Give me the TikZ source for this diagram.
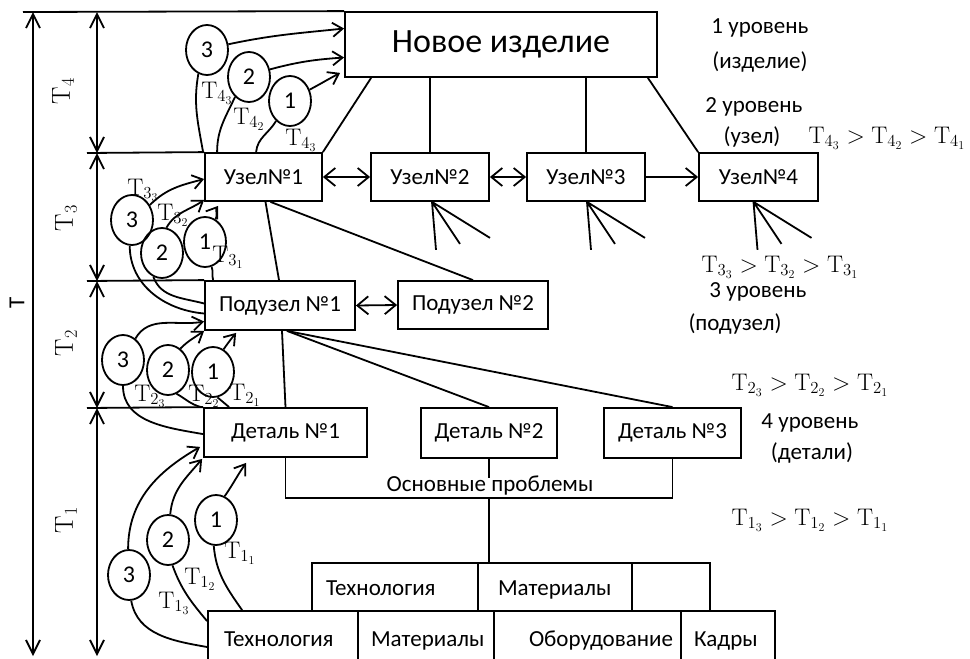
\RequirePackage{fix-cm}
\documentclass[tikz,border=0pt]{standalone}
\usepackage[no-math]{fontspec}
\setmainfont{Carlito}
\usetikzlibrary{arrows.meta,shapes.geometric}

\begin{document}
\begin{tikzpicture}[x=1pt,y=1pt,line width=1.8pt,
  box/.style={draw, rectangle, inner sep=0pt, font=\fontsize{23}{27}\selectfont},
  circ/.style={draw, ellipse, inner sep=0pt, minimum width=42pt, minimum height=50pt, font=\fontsize{24}{28}\selectfont},
  lbl/.style={inner sep=0pt, font=\fontsize{24}{28}\selectfont},
  dimlbl/.style={inner sep=0pt, rotate=90, font=\fontsize{26}{30}\selectfont},
  txt/.style={inner sep=0pt, font=\fontsize{23}{27}\selectfont},
  cell/.style={txt, anchor=base west},
  arr/.style={-{Straight Barb[length=10pt,width=14pt]}},
  harr/.style={-{Straight Barb[length=11pt,width=18pt]}},
  dbl/.style={{Straight Barb[length=11pt,width=18pt]}-{Straight Barb[length=11pt,width=18pt]}},
  dim/.style={{Straight Barb[length=14pt,width=14pt]}-{Straight Barb[length=14pt,width=14pt]}}]

\useasboundingbox (0,0) rectangle (970,-659);
\clip (0,0) rectangle (970,-659);

% ---- level boundaries and time spans
\coordinate (a0) at (23,-12);
\coordinate (a1) at (87,-153);
\coordinate (a2) at (87,-281);
\coordinate (a3) at (87,-408);
\coordinate (tT0) at (33,-12);  \coordinate (tT1) at (33,-656);
\coordinate (t40) at (97,-12);  \coordinate (t41) at (97,-153);
\coordinate (t31) at (97,-281); \coordinate (t21) at (97,-408);
\coordinate (t11) at (97,-656);

% ---- level 1 and 2
\node[box, minimum width=312pt, minimum height=65pt, font=\fontsize{34}{40}\selectfont] (top) at (501,-44.5) {Новое изделие};
\node[box, minimum width=117pt, minimum height=48pt] (u1) at (263.5,-177) {Узел№1};
\node[box, minimum width=118pt, minimum height=48pt] (u2) at (430,-177) {Узел№2};
\node[box, minimum width=118pt, minimum height=48pt] (u3) at (586,-177) {Узел№3};
\node[box, minimum width=119pt, minimum height=48pt] (u4) at (758.5,-177) {Узел№4};

% ---- level 3
\node[box, minimum width=150pt, minimum height=49pt] (p1) at (280,-305.5) {Подузел №1};
\node[box, minimum width=150pt, minimum height=48pt] (p2) at (473,-305) {Подузел №2};

% ---- level 4
\node[box, minimum width=163pt, minimum height=49pt] (d1) at (285.5,-432.5) {Деталь №1};
\node[box, minimum width=136pt, minimum height=50pt] (d2) at (489,-433) {Деталь №2};
\node[box, minimum width=137pt, minimum height=50pt] (d3) at (672.5,-433) {Деталь №3};

% ---- problem table
\node[box, minimum width=166pt, minimum height=48pt] (tt) at (395,-587) {};
\node[box, minimum width=154pt, minimum height=48pt] (tm) at (555,-587) {};
\node[box, minimum width=78pt, minimum height=48pt] (te) at (671,-587) {};
\node[cell] (ttl) at ([xshift=14pt,yshift=-8pt]tt.west) {Технология};
\node[cell] (tml) at ([xshift=20pt,yshift=-8pt]tm.west) {Материалы};
\node[box, minimum width=150pt, minimum height=54pt] (bt) at (283,-638) {};
\node[box, minimum width=136pt, minimum height=54pt] (bm) at (426,-638) {};
\node[box, minimum width=187pt, minimum height=54pt] (bo) at (587.5,-638) {};
\node[box, minimum width=94pt, minimum height=54pt] (bk) at (728,-638) {};
\node[cell] (btl) at ([xshift=16pt,yshift=-8pt]bt.west) {Технология};
\node[cell] (bml) at ([xshift=13pt,yshift=-8pt]bm.west) {Материалы};
\node[cell] (bol) at ([xshift=35pt,yshift=-8pt]bo.west) {Оборудование};
\node[cell] (bkl) at ([xshift=13pt,yshift=-8pt]bk.west) {Кадры};

% ---- level lines and time spans
\draw (a0) -- (top.north west);
\draw (a1) -- (u1.north west);
\draw (a2) -- (p1.north west);
\draw (a3) -- (d1.north west);
\draw[dim] (tT0) -- (tT1);
\draw[dim] (t40) -- (t41);
\draw[dim] (t41) -- (t31);
\draw[dim] (t31) -- (t21);
\draw[dim] (t21) -- (t11);
\node[rotate=90, inner sep=0pt, font=\fontsize{23}{27}\selectfont] (lT) at (17,-303) {T};
\node[dimlbl] (lT4) at (63,-91) {$\mathrm{T}_4$};
\node[dimlbl] (lT3) at (66,-218) {$\mathrm{T}_3$};
\node[dimlbl] (lT2) at (66,-343) {$\mathrm{T}_2$};
\node[dimlbl] (lT1) at (66,-520) {$\mathrm{T}_1$};

% ---- tree connectors
\draw ([xshift=27pt]top.south west) -- (u1.north east);
\draw (u2.north |- top.south) -- (u2.north);
\draw (u3.north |- top.south) -- (u3.north);
\draw ([xshift=-10pt]top.south east) -- (u4.north west);
\draw[dbl] (u1.east) -- (u2.west);
\draw[dbl] (u2.east) -- (u3.west);
\draw[harr] (u3.east) -- (u4.west);
\foreach \n/\dx in {u2/2,u3/1,u4/-5}{
  \draw ([xshift=\dx pt]\n.south) -- ++(4,-48)
        ([xshift=\dx pt]\n.south) -- ++(28,-42)
        ([xshift=\dx pt]\n.south) -- ++(58,-36);
}
\draw ([xshift=2pt]u1.south) -- ([xshift=-1pt]p1.north);
\draw ([xshift=7pt]u1.south) -- (p2.north);
\draw[dbl] (p1.east) -- (p2.west);
\draw ([xshift=2pt]p1.south) -- (d1.north);
\draw ([xshift=7pt]p1.south) -- (d2.north);
\draw ([xshift=7pt]p1.south) -- (d3.north);
\coordinate (bus) at (489,-498);
\draw (d1.south) |- (bus) -| (d3.south);
\draw (d2.south) -- ++(0,-19);
\node[txt] (op) at (490,-486) {Основные проблемы};
\draw (bus) -- (bus |- tm.north);

% ---- variants, level 4 span
\node[circ] (c43) at (207,-50) {3};
\node[circ] (c42) at (249,-77) {2};
\node[circ] (c41) at (290,-101) {1};
\draw[arr] (c43.15) to[out=12,in=186] ([yshift=16pt]top.west);
\draw[arr] (c42.20) to[out=15,in=184] ([yshift=-13pt]top.west);
\draw[arr] (c41.30) to[out=28,in=208] ([xshift=-4pt,yshift=5pt]top.south west);
\draw (c43.250) to[out=260,in=100] ([xshift=-1pt]u1.north west);
\draw (c42.235) to[out=245,in=90] ([xshift=13pt]u1.north west);
\draw (c41.235) to[out=240,in=85] ([xshift=52pt]u1.north west);
\node[lbl] (lt43) at (217,-93) {$\mathrm{T}_{4_3}$};
\node[lbl] (lt42) at (249,-119) {$\mathrm{T}_{4_2}$};
\node[lbl] (lt41) at (301,-140) {$\mathrm{T}_{4_3}$};

% ---- variants, level 3 span
\node[circ] (c33) at (132,-220) {3};
\node[circ] (c32) at (162,-253) {2};
\node[circ] (c31) at (205,-242) {1};
\draw[arr] (c33.40) to[out=45,in=195] ([yshift=-2pt]u1.west);
\draw[arr] (c32.80) to[out=60,in=215] ([yshift=2pt]u1.south west);
\draw[arr] (c31.65) to[out=60,in=235] ([xshift=14pt,yshift=-4pt]u1.south west);
\draw (c33.265) to[out=270,in=175] ([yshift=-8pt]p1.west);
\draw (c32.250) to[out=290,in=165] ([yshift=2pt]p1.west);
\draw (c31.285) to[out=290,in=105] ([xshift=9pt]p1.north west);
\node[lbl] (lt33) at (143,-190) {$\mathrm{T}_{3_3}$};
\node[lbl] (lt32) at (173,-215) {$\mathrm{T}_{3_2}$};
\node[lbl] (lt31) at (228,-257) {$\mathrm{T}_{3_1}$};

% ---- variants, level 2 span
\node[circ] (c23) at (123,-360) {3};
\node[circ] (c22) at (168,-370) {2};
\node[circ] (c21) at (213,-372) {1};
\draw[arr] (c23.60) to[out=60,in=190] ([yshift=-16pt]p1.west);
\draw[arr] (c22.60) to[out=45,in=215] (p1.south west);
\draw[arr] (c21.65) to[out=55,in=230] ([xshift=32pt,yshift=-2pt]p1.south west);
\draw (c23.270) to[out=270,in=170] ([yshift=-27pt]d1.north west);
\draw (c22.290) to[out=-30,in=165] ([xshift=-2pt]d1.north west);
\draw (c21.280) to[out=-40,in=140] ([xshift=26pt]d1.north west);
\node[lbl] (lt23) at (150,-396) {$\mathrm{T}_{2_3}$};
\node[lbl] (lt22) at (204,-396) {$\mathrm{T}_{2_2}$};
\node[lbl] (lt21) at (245,-395) {$\mathrm{T}_{2_1}$};

% ---- variants, level 1 span
\node[circ] (c13) at (129,-575) {3};
\node[circ] (c12) at (168,-540) {2};
\node[circ] (c11) at (216,-520) {1};
\draw[arr] (c11.70) to[out=55,in=235] ([xshift=43pt,yshift=-5pt]d1.south west);
\draw[arr] (c12.85) to[out=85,in=230] ([xshift=-1pt,yshift=-1pt]d1.south west);
\draw[arr] (c13.92) to[out=90,in=210] ([xshift=-3pt,yshift=11pt]d1.south west);
\draw (c13.275) to[out=-80,in=170] ([yshift=-9pt]bt.west);
\draw (c12.280) to[out=-70,in=130] ([yshift=-11pt]bt.north west);
\draw (c11.265) to[out=-85,in=125] ([xshift=35pt]bt.north west);
\node[lbl] (lt11) at (240,-553) {$\mathrm{T}_{1_1}$};
\node[lbl] (lt12) at (200,-579) {$\mathrm{T}_{1_2}$};
\node[lbl] (lt13) at (174,-603) {$\mathrm{T}_{1_3}$};

% ---- level captions and orderings
\node[txt] (lv1a) at (760,-28) {1 уровень};
\node[txt] (lv1b) at (760,-62) {(изделие)};
\node[txt] (lv2a) at (754,-107) {2 уровень};
\node[txt] (lv2b) at (752,-137) {(узел)};
\node[lbl] (o4) at (887,-138) {$\mathrm{T}_{4_3} > \mathrm{T}_{4_2} > \mathrm{T}_{4_1}$};
\node[lbl] (o3) at (780,-267) {$\mathrm{T}_{3_3} > \mathrm{T}_{3_2} > \mathrm{T}_{3_1}$};
\node[txt] (lv3a) at (758,-292) {3 уровень};
\node[txt] (lv3b) at (735,-324) {(подузел)};
\node[lbl] (o2) at (810,-385) {$\mathrm{T}_{2_3} > \mathrm{T}_{2_2} > \mathrm{T}_{2_1}$};
\node[txt] (lv4a) at (810,-423) {4 уровень};
\node[txt] (lv4b) at (812,-453) {(детали)};
\node[lbl] (o1) at (810,-520) {$\mathrm{T}_{1_3} > \mathrm{T}_{1_2} > \mathrm{T}_{1_1}$};
\end{tikzpicture}
\end{document}
